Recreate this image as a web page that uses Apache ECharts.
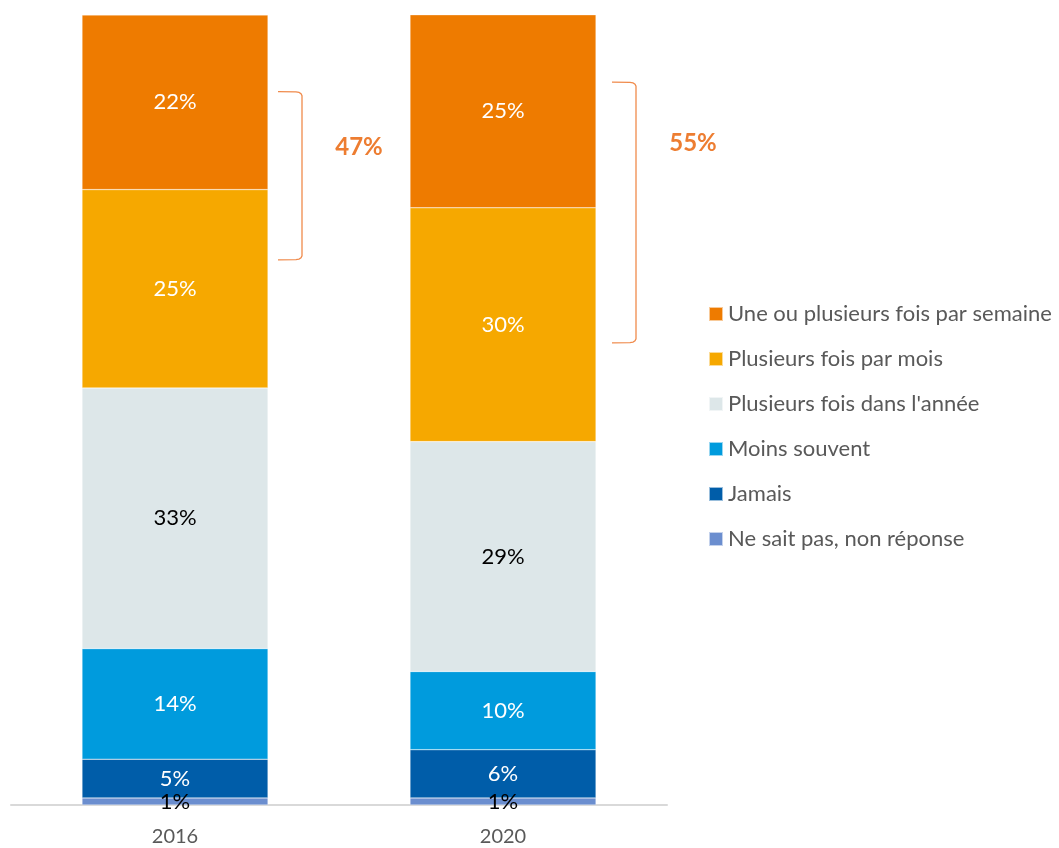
<!DOCTYPE html>
<html>
<head>
<meta charset="utf-8">
<script src="https://cdn.jsdelivr.net/npm/echarts@6/dist/echarts.min.js"></script>
<style>
html,body{margin:0;padding:0;background:#fff;}
#chart{width:1059px;height:848px;}
</style>
</head>
<body>
<div id="chart"></div>
<script>
// ---- data ----
var categories = ['2016', '2020'];
var seriesNames = [
  'Ne sait pas, non réponse',
  'Jamais',
  'Moins souvent',
  'Plusieurs fois dans l\'année',
  'Plusieurs fois par mois',
  'Une ou plusieurs fois par semaine'
];
var nsp      = [0.9, 0.9];
var jamais   = [4.9, 6.1];
var moins    = [14.0, 9.9];
var annee    = [33.0, 29.1];
var mois     = [25.1, 29.6];
var semaine  = [22.1, 24.6];
var totals = ['47%', '55%'];
var bracketRanges = [[69, 90.3], [58.5, 91.5]];
var totalLabelY = [83.2, 83.8];

var colors = ['#6B8ECF', '#005DA9', '#009BDD', '#DDE7E9', '#F6A800', '#EE7B00'];
var labelColors = ['#000000', '#FFFFFF', '#FFFFFF', '#000000', '#FFFFFF', '#FFFFFF'];
var allValues = [nsp, jamais, moins, annee, mois, semaine];

var FONT = 'Lato';
var chart = echarts.init(document.getElementById('chart'));

var series = allValues.map(function (vals, i) {
  return {
    name: seriesNames[i],
    type: 'bar',
    stack: 'total',
    barWidth: 186,
    data: vals,
    itemStyle: { color: colors[i], borderColor: 'rgba(255,255,255,0.6)', borderWidth: 0.5 },
    label: {
      show: true,
      position: 'inside',
      color: labelColors[i],
      fontFamily: FONT,
      fontSize: 22,
      formatter: function (p) { return Math.round(p.value) + '%'; }
    },
    emphasis: { disabled: true },
    animation: false
  };
});

chart.setOption({
  animation: false,
  grid: { left: 11, right: 392, top: 15, bottom: 43, containLabel: false },
  xAxis: {
    type: 'category',
    data: categories,
    axisLine: { lineStyle: { color: '#D9D9D9', width: 2 } },
    axisTick: { show: false },
    axisLabel: { color: '#595959', fontFamily: FONT, fontSize: 20, margin: 22 }
  },
  yAxis: {
    type: 'value', min: 0, max: 100,
    show: false, splitLine: { show: false }
  },
  legend: {
    orient: 'vertical',
    left: 703,
    top: 298,
    itemWidth: 14,
    itemHeight: 14,
    itemGap: 23,
    icon: 'rect',
    data: seriesNames.slice().reverse(),
    textStyle: { color: '#595959', fontFamily: FONT, fontSize: 22, lineHeight: 22 },
    selectedMode: false
  },
  series: series
});

// brackets and totals, positioned through the chart's own scales
var graphics = [];
var bracketOffset = [127, 133];
categories.forEach(function (c, i) {
  var top = chart.convertToPixel({ gridIndex: 0 }, [c, bracketRanges[i][1]]);
  var bot = chart.convertToPixel({ gridIndex: 0 }, [c, bracketRanges[i][0]]);
  var x = top[0] + bracketOffset[i];
  var y1 = top[1], y2 = bot[1];
  var w = 24;
  var pts = [
    [x - w, y1], [x - 6, y1 + 0.2], [x - 3, y1 + 0.8], [x - 1, y1 + 2], [x, y1 + 4],
    [x, y2 - 4], [x - 1, y2 - 2], [x - 3, y2 - 0.8], [x - 6, y2 - 0.2], [x - w, y2]
  ];
  graphics.push({
    type: 'polyline',
    shape: { points: pts },
    style: { fill: null, stroke: '#F08B4C', lineWidth: 1.3 },
    silent: true
  });
  var ly = chart.convertToPixel({ gridIndex: 0 }, [c, totalLabelY[i]])[1];
  graphics.push({
    type: 'text',
    x: x + 57,
    y: ly,
    style: {
      text: totals[i],
      fill: '#ED7D31',
      font: 'bold 24px ' + FONT,
      textAlign: 'center',
      textVerticalAlign: 'middle'
    },
    silent: true
  });
});
chart.setOption({ graphic: graphics });
</script>
</body>
</html>
